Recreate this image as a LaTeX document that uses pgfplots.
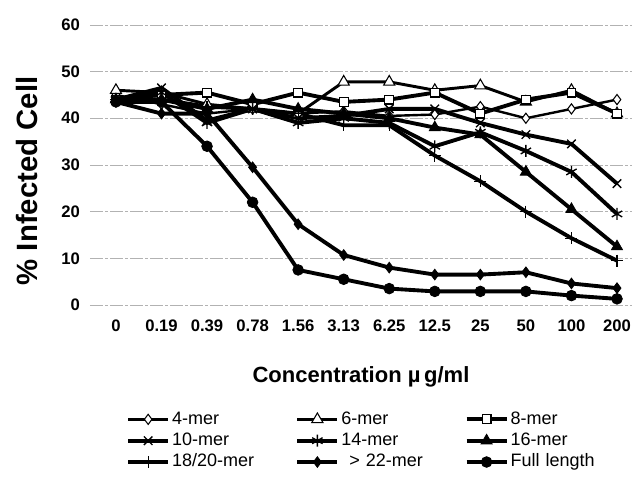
\documentclass[border=0pt]{standalone}
\usepackage{fontspec}
\setmainfont{Liberation Sans}
\usepackage{pgfplots}
\usepackage{pgfplotstable}
\pgfplotsset{compat=1.18}

% % infected cells vs. concentration, one column per oligomer length
\pgfplotstableread{
x  m4   m6   m8   m10  m14  m16  m18  m22  full
0  45   46   44   44   44   44   44   43.5 43.5
1  43   45.5 45   46.5 45.5 44   44   41   43.5
2  41   43   45.5 39.5 39   42   42.5 41   34
3  42   42   43   42   42   44   42   29.5 22
4  41   41   45.5 40   39   42   41   17.3 7.5
5  41.5 47.8 43.5 40.5 40   41   38.5 10.7 5.5
6  40.5 47.8 44   42   39   40   38.5 8    3.5
7  40.8 46   45.5 42   34   38   32   6.5  2.9
8  42.5 47   41   39   37   36.5 26.5 6.5  2.9
9  40   43.5 44   36.5 33   28.5 20   7    2.9
10 42   46   45.5 34.5 28.5 20.5 14.3 4.6  2
11 44   41   41   26   19.5 12.5 9.5  3.6  1.3
}\data

\begin{document}
\begin{tikzpicture}
\begin{axis}[
  scale only axis,
  width=406.5pt, height=210pt,
  xmin=-0.57, xmax=11.33,
  ymin=0, ymax=60,
  xtick={0,...,11},
  xticklabels={0,0.19,0.39,0.78,1.56,3.13,6.25,12.5,25,50,100,200},
  ytick={0,10,...,60},
  /pgf/number format/assume math mode=true,
  ticklabel style={font=\bfseries\fontsize{12.5}{14}\selectfont},
  xticklabel style={yshift=-8pt},
  yticklabel style={xshift=-4pt},
  axis line style={draw=none},
  major tick length=0pt,
  ymajorgrids,
  major grid style={gray!60, line width=0.6pt, dash pattern=on 10pt off 1.5pt on 2pt off 1.5pt},
  every axis x label/.style={at={(rel axis cs:0.5,-0.257)}, anchor=center,
    font=\bfseries\fontsize{16.5}{18}\selectfont},
  every axis y label/.style={at={(rel axis cs:-0.116,0.443)}, rotate=90, anchor=center,
    font=\bfseries\fontsize{22}{24}\selectfont},
  xlabel={Concentration µ\,g/ml},
  ylabel={\% Infected Cell},
  clip=false,
  legend columns=3,
  legend style={at={(rel axis cs:0.059,-0.36)}, anchor=north west, draw=none, fill=none,
    font=\fontsize{13.5}{15}\selectfont, row sep=0pt,
    nodes={text height=10pt, text depth=3pt, inner ysep=1.5pt, inner xsep=1.5pt}},
  legend cell align=left,
  /tikz/every even column/.append style={text width=89pt, column sep=2pt},
  legend image code/.code={\draw[mark repeat=2,mark phase=2,#1]
    plot coordinates {(0pt,0pt)(15pt,0pt)(30pt,0pt)};},
  every axis plot/.append style={black},
]
\addplot[line width=1.8pt, mark=diamond*, mark size=3.8pt,
  mark options={fill=white, line width=0.8pt}] table[x=x, y=m4] {\data};
\addplot[line width=2.2pt, mark=triangle*, mark size=4.8pt,
  mark options={fill=white, line width=0.8pt}] table[x=x, y=m6] {\data};
\addplot[line width=2.9pt, mark=square*, mark size=3.3pt,
  mark options={fill=white, line width=0.8pt}] table[x=x, y=m8] {\data};
\addplot[line width=2.9pt, mark=x, mark size=4.5pt,
  mark options={line width=1pt}] table[x=x, y=m10] {\data};
\addplot[line width=2.9pt, mark=asterisk, mark size=4.5pt,
  mark options={line width=1pt}] table[x=x, y=m14] {\data};
\addplot[line width=2.9pt, mark=triangle*, mark size=4.8pt,
  mark options={fill=black, line width=0.6pt}] table[x=x, y=m16] {\data};
\addplot[line width=2.9pt, mark=+, mark size=4.5pt,
  mark options={line width=0.9pt}] table[x=x, y=m18] {\data};
\addplot[line width=2.9pt, mark=diamond*, mark size=4pt,
  mark options={fill=black, line width=0.6pt}] table[x=x, y=m22] {\data};
\addplot[line width=2.9pt, mark=*, mark size=4pt,
  mark options={fill=black, line width=0.6pt}] table[x=x, y=full] {\data};
\legend{4-mer, 6-mer, 8-mer, 10-mer, 14-mer, 16-mer, 18/20-mer, \hspace{6pt}> 22-mer, Full length}
\coordinate (bbsw) at (rel axis cs:-0.166,-0.643);
\coordinate (bbne) at (rel axis cs:1.0055,1.089);
\end{axis}
\pgfresetboundingbox
\path (bbsw) rectangle (bbne);
\end{tikzpicture}
\end{document}
